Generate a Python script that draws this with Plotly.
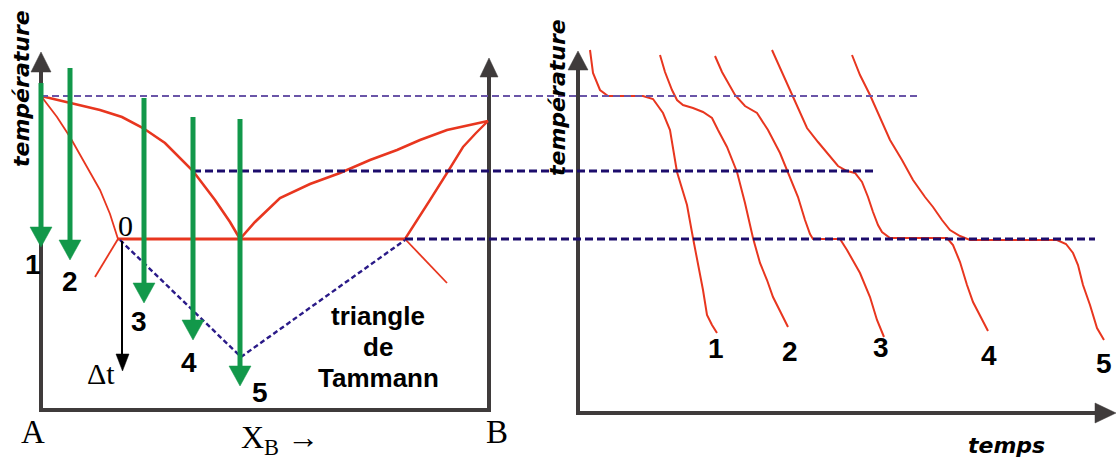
import plotly.graph_objects as go

# ---------------- data (diagram units: x = horizontal position, y = temperature level, top = hot) ----------------
# Left panel: binary phase diagram A-B
liquidus_left_x = [41, 70, 100, 122, 143, 165, 193, 215, 230, 240]
liquidus_left_y = [96, 103, 110, 117, 128, 143, 171, 200, 222, 239]
solidus_left_x = [41, 57, 70, 85, 100, 110, 118]
solidus_left_y = [96, 117, 137, 163, 190, 214, 239]
solvus_left_x = [118, 106, 95]
solvus_left_y = [239, 259, 277]
eutectic_x = [118, 405]
eutectic_y = [239, 239]
liquidus_right_x = [240, 255, 280, 310, 340, 370, 397, 420, 447, 470, 488]
liquidus_right_y = [239, 222, 198, 184, 173, 160, 150, 140, 130, 125, 121]
solidus_right_x = [405, 418, 430, 447, 463, 476, 488]
solidus_right_y = [239, 218, 200, 173, 147, 133, 121]
solvus_right_x = [405, 447]
solvus_right_y = [239, 283]

# Tammann triangle
tammann_x = [120, 241, 405]
tammann_y = [240, 357, 240]

# isotherms (start, end, level)
iso_top = ([41, 920], [96, 96])
iso_mid = ([193, 875], [171, 171])
iso_bot = ([405, 1095], [239, 239])

# compositions explored (green arrows): x, start level, tip level
comp_x = [41, 70, 144, 193, 240]
comp_top = [83, 68, 98, 117, 119]
comp_tip = [247, 260, 303, 340, 386]
comp_labels = ["1", "2", "3", "4", "5"]
comp_label_x = [33, 70, 139, 189, 260]
comp_label_y = [264, 281, 321, 362, 392]

# Right panel: cooling curves
c1_x = [590, 593, 600, 608, 643, 653, 663, 670, 677, 687, 693, 698, 703, 707, 712, 717]
c1_y = [50, 73, 90, 96, 96, 99, 113, 130, 172, 205, 238, 263, 290, 315, 325, 333]
c2_x = [660, 665, 672, 677, 683, 693, 703, 712, 718, 727, 737, 745, 753, 760, 767, 773, 781, 788]
c2_y = [55, 72, 90, 100, 105, 108, 112, 118, 130, 147, 172, 203, 238, 263, 280, 297, 313, 327]
c3_x = [715, 722, 735, 745, 757, 768, 780, 788, 798, 805, 810, 813, 840, 847, 853, 860, 870, 877, 884]
c3_y = [56, 72, 95, 106, 113, 130, 153, 172, 197, 220, 234, 239, 239, 250, 260, 273, 297, 320, 337]
c4_x = [772, 780, 792, 807, 818, 827, 838, 847, 855, 862, 868, 873, 878, 882, 890, 947, 953, 960, 967, 973, 980, 988]
c4_y = [50, 68, 95, 128, 142, 153, 166, 171, 173, 182, 197, 212, 225, 232, 238, 238, 245, 262, 285, 302, 315, 331]
c5_x = [852, 860, 870, 880, 890, 902, 913, 925, 933, 942, 950, 960, 970, 1057, 1066, 1073, 1078, 1083, 1090, 1097, 1104]
c5_y = [55, 75, 95, 118, 140, 160, 180, 197, 207, 220, 230, 236, 240, 240, 244, 253, 265, 285, 305, 328, 340]
curve_label_x = [716, 790, 881, 989, 1104]
curve_label_y = [348, 351, 347, 355, 363]

# axes frames
left_axis_x = [41, 41, 489, 489]
left_axis_y = [70, 410, 410, 75]
right_axis_x = [578, 578, 1097]
right_axis_y = [70, 413, 413]

RED = "#e8361f"
GREEN = "#12984a"
GRAY = "#3f3b3b"
NAVY = "#1c0c6c"
PURPLE = "#6a55a8"

fig = go.Figure()


def line(x, y, color, width, dash=None):
    fig.add_trace(go.Scatter(x=x, y=y, mode="lines", hoverinfo="skip",
                             line=dict(color=color, width=width, dash=dash)))


def tri(x, y, color):
    fig.add_trace(go.Scatter(x=x, y=y, mode="lines", fill="toself", fillcolor=color,
                             hoverinfo="skip", line=dict(color=color, width=0.5)))


# gray axes
line(left_axis_x, left_axis_y, GRAY, 4)
line(right_axis_x, right_axis_y, GRAY, 4)
tri([31, 51, 41, 31], [72, 72, 52, 72], GRAY)
tri([480, 498, 489, 480], [77, 77, 58, 77], GRAY)
tri([568, 588, 578, 568], [70, 70, 51, 70], GRAY)
tri([1095, 1095, 1116, 1095], [403, 423, 413, 403], GRAY)

# phase diagram curves
line(liquidus_left_x, liquidus_left_y, RED, 2.6)
line(solidus_left_x, solidus_left_y, RED, 1.8)
line(solvus_left_x, solvus_left_y, RED, 1.8)
line(eutectic_x, eutectic_y, RED, 3)
line(liquidus_right_x, liquidus_right_y, RED, 2.6)
line(solidus_right_x, solidus_right_y, RED, 2.4)
line(solvus_right_x, solvus_right_y, RED, 1.8)

# cooling curves
for cx, cy in [(c1_x, c1_y), (c2_x, c2_y), (c3_x, c3_y), (c4_x, c4_y), (c5_x, c5_y)]:
    line(cx, cy, RED, 2)

# isotherms and Tammann triangle
line(*iso_top, PURPLE, 1.8, "7px,4px")
line(*iso_mid, NAVY, 3, "8px,4px")
line(*iso_bot, NAVY, 3, "8px,4px")
line(tammann_x, tammann_y, "#2a1a88", 2.4, "5px,3px")

# green arrows
for gx, gt, gp in zip(comp_x, comp_top, comp_tip):
    line([gx, gx], [gt, gp - 12], GREEN, 5)
    tri([gx - 11, gx + 11, gx, gx - 11], [gp - 20, gp - 20, gp, gp - 20], GREEN)

# black delta-t arrow
line([122, 122], [241, 360], "black", 2)
tri([116, 129, 122.5, 116], [354, 354, 371, 354], "black")

ann = []
BOLD = "Liberation Sans, Arial, sans-serif"
SERIF = "Liberation Serif, Times New Roman, serif"
for t, x, y in zip(comp_labels, comp_label_x, comp_label_y):
    ann.append(dict(x=x, y=y, text=t, font=dict(family=BOLD, size=28, color="black", weight="bold")))
for t, x, y in zip(comp_labels, curve_label_x, curve_label_y):
    ann.append(dict(x=x, y=y, text=t, font=dict(family=BOLD, size=28, color="black", weight="bold")))
for t, y in zip(["triangle", "de", "Tammann"], [316, 347, 378]):
    ann.append(dict(x=378, y=y, text=t, font=dict(family=BOLD, size=26, color="black", weight="bold")))
ann.append(dict(x=125, y=225, text="0", font=dict(family=SERIF, size=30, color="black")))
ann.append(dict(x=101, y=373, text="Δt", font=dict(family=SERIF, size=30, color="black")))
ann.append(dict(x=33, y=432, text="A", font=dict(family=SERIF, size=33, color="black")))
ann.append(dict(x=497, y=432, text="B", font=dict(family=SERIF, size=33, color="black")))
ann.append(dict(x=280, y=439, text="X<sub>B</sub> →", font=dict(family=SERIF, size=32, color="black")))
ann.append(dict(x=21, y=89, text="température", textangle=-90,
                font=dict(family="DejaVu Sans, sans-serif", size=22, color="black", weight="bold", style="italic")))
ann.append(dict(x=557, y=98, text="température", textangle=-90,
                font=dict(family="DejaVu Sans, sans-serif", size=22, color="black", weight="bold", style="italic")))
ann.append(dict(x=1006, y=445, text="temps",
                font=dict(family="DejaVu Sans, sans-serif", size=22, color="black", weight="bold", style="italic")))
for a in ann:
    a.update(xref="x", yref="y", showarrow=False, xanchor="center", yanchor="middle")

fig.update_layout(
    width=1116, height=459, autosize=False,
    margin=dict(l=0, r=0, t=0, b=0, pad=0),
    paper_bgcolor="white", plot_bgcolor="white",
    showlegend=False,
    xaxis=dict(range=[0, 1116], visible=False, fixedrange=True),
    yaxis=dict(range=[459, 0], visible=False, fixedrange=True),
    annotations=ann,
)
fig.write_html("out.html", config={"displayModeBar": False})
